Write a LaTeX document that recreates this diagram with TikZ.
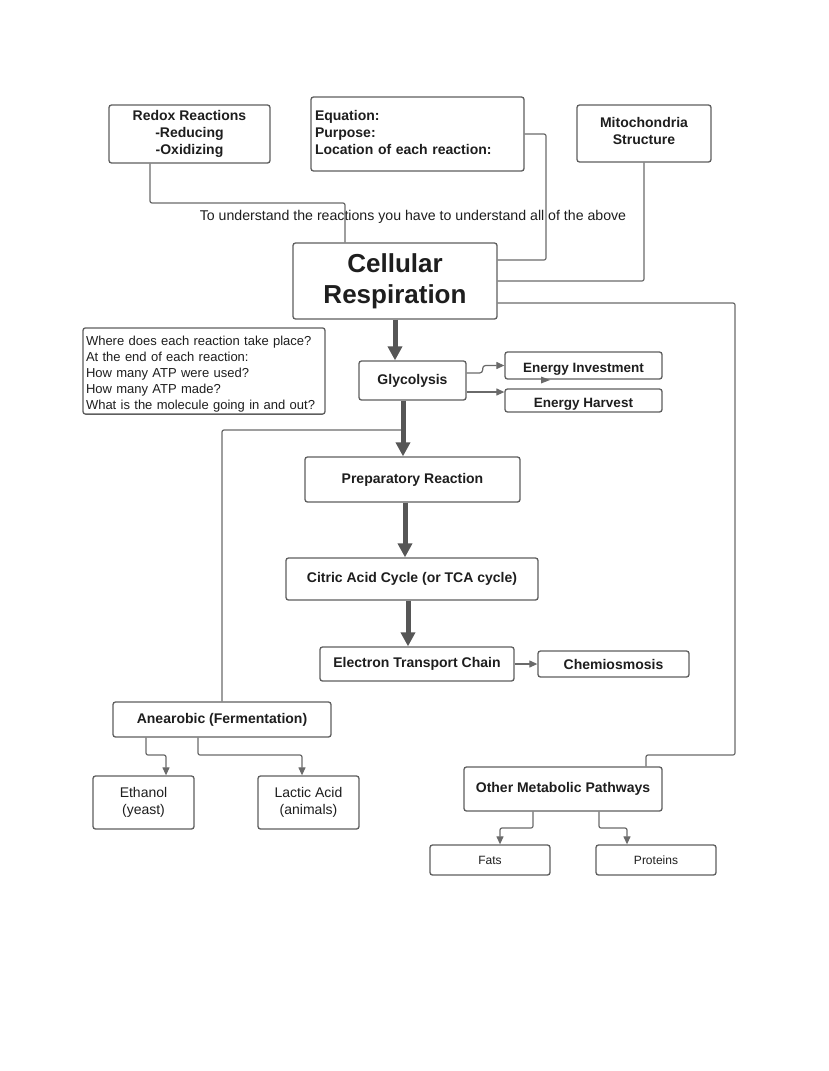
\documentclass[tikz,border=0pt]{standalone}
\usepackage{fontspec}
\setmainfont{Liberation Sans}
\usetikzlibrary{arrows.meta}
\definecolor{boxc}{HTML}{5E5E5E}
\definecolor{linec}{HTML}{6A6A6A}
\definecolor{arrc}{HTML}{565656}
\definecolor{txt}{HTML}{1E1E1E}
\tikzset{
  box/.style={draw=boxc, line width=1.3pt, rounded corners=2.5pt, align=center, inner sep=2pt, text=txt,
    font=\bfseries\fontsize{14}{17}\selectfont},
  plainbox/.style={box, font=\fontsize{14}{17}\selectfont},
  conn/.style={draw=linec, line width=1.2pt, rounded corners=2pt},
  tarrow/.style={conn, -{Triangle[width=7pt,length=8pt]}},
  bigarrow/.style={draw=arrc, line width=5pt, -{Triangle[width=14pt,length=14pt]}},
}
\begin{document}
\begin{tikzpicture}[x=1pt,y=-1pt]
\useasboundingbox[fill=white] (0,0) rectangle (828,1071);

% nodes
\node[box, minimum width=161, minimum height=58] (redox) at (189.5,134) {Redox Reactions\\-Reducing\\-Oxidizing};
\node[box, minimum height=74, text width=205, inner xsep=4pt, align=left] (eq) at (417.5,134) {Equation:\\Purpose:\\Location of each reaction:\rule[-4pt]{0pt}{4pt}};
\node[box, minimum width=134, minimum height=57] (mito) at (644,133.5) {Mitochondria\\Structure\rule[-6pt]{0pt}{6pt}};
\node[text=txt, font=\fontsize{14.15}{17}\selectfont, inner sep=0pt] (note) at (413,217) {To understand the reactions you have to understand all of the above};
\node[box, minimum width=204, minimum height=76, font=\bfseries\fontsize{26}{31}\selectfont] (cr) at (395,281) {Cellular\\Respiration};
\node[plainbox, minimum height=84, text width=236, inner xsep=3pt, align=left, font=\fontsize{13}{16}\selectfont] (q) at (204,371)
  {\rule{0pt}{15.5pt}Where does each reaction take place?\\At the end of each reaction:\\How many ATP were used?\\How many ATP made?\\What is the molecule going in and out?};
\node[box, minimum width=107, minimum height=39] (gly) at (412.5,380.5) {Glycolysis};
\node[box, minimum width=157, minimum height=27, text height=15pt, text depth=2pt, font=\bfseries\fontsize{13.5}{16}\selectfont] (ei) at (583.5,365.5) {Energy Investment};
\node[box, minimum width=157, minimum height=23, text height=15pt, text depth=2pt, font=\bfseries\fontsize{13.5}{16}\selectfont] (eh) at (583.5,400.5) {Energy Harvest};
\node[box, minimum width=215, minimum height=45] (prep) at (412.5,479.5) {Preparatory Reaction};
\node[box, minimum width=252, minimum height=42] (cit) at (412,579) {Citric Acid Cycle (or TCA cycle)};
\node[box, minimum width=194, minimum height=34] (etc) at (417,664) {Electron Transport Chain};
\node[box, minimum width=151, minimum height=26] (chem) at (613.5,664) {Chemiosmosis};
\node[box, minimum width=218, minimum height=35] (ana) at (222,719.5) {Anearobic (Fermentation)};
\node[plainbox, minimum width=101, minimum height=53] (eth) at (143.5,802.5) {Ethanol\\(yeast)};
\node[plainbox, minimum width=101, minimum height=53] (lac) at (308.5,802.5) {Lactic Acid\\(animals)};
\node[box, minimum width=198, minimum height=44] (omp) at (563,789) {Other Metabolic Pathways};
\node[plainbox, minimum width=120, minimum height=30, font=\fontsize{12}{14}\selectfont] (fats) at (490,860) {Fats};
\node[plainbox, minimum width=120, minimum height=30, font=\fontsize{12}{14}\selectfont] (prot) at (656,860) {Proteins};

% top connectors
\coordinate (k1) at (150,203);
\coordinate (k2) at (345,203);
\draw[conn] (redox.south -| k1) -- (k1) -- (k2) -- (cr.north -| k2);
\coordinate (k3) at (546,260);
\draw[conn] (eq.east) -| (k3) -- (cr.east |- k3);
\draw[conn] (mito.south) |- (cr.east);
\coordinate (k5) at (735,303);
\coordinate (k6) at (735,755);
\coordinate (k7) at (646,755);
\draw[conn] (cr.east |- k5) -- (k5) -- (k6) -- (k7) -- (omp.north -| k7);

% main chain
\draw[bigarrow] (cr.south) -- (cr.south |- gly.north);
\draw[tarrow, rounded corners=3pt] ([yshift=7.5pt]gly.east) -- ++(16,0) |- (ei.west);
\coordinate (h1) at ([yshift=-11.5pt]gly.east);
\draw[tarrow] (h1) -- (eh.west |- h1);
\fill[linec] (541,376.5) -- (550,380) -- (541,383.5) -- cycle;
\coordinate (g1) at ([xshift=-9.5pt]gly.south);
\coordinate (k8) at (222,430);
\draw[conn] (g1 |- k8) -- (k8) -- (ana.north);
\draw[bigarrow] (g1) -- (g1 |- prep.north);
\coordinate (p1) at ([xshift=-7.5pt]prep.south);
\draw[bigarrow] (p1) -- (p1 |- cit.north);
\coordinate (c1) at ([xshift=-4pt]cit.south);
\draw[bigarrow] (c1) -- (c1 |- etc.north);
\draw[tarrow] (etc.east) -- (chem.west);

% fermentation
\coordinate (a1) at (146,755);
\coordinate (a2) at (166,755);
\draw[tarrow] (ana.south -| a1) -- (a1) -- (a2) -- (eth.north -| a2);
\coordinate (a3) at (198,755);
\coordinate (a4) at (302,755);
\draw[tarrow] (ana.south -| a3) -- (a3) -- (a4) -- (lac.north -| a4);

% other pathways
\coordinate (o1) at (533,828);
\coordinate (o2) at (500,828);
\draw[tarrow] (omp.south -| o1) -- (o1) -- (o2) -- (fats.north -| o2);
\coordinate (o3) at (599,828);
\coordinate (o4) at (627,828);
\draw[tarrow] (omp.south -| o3) -- (o3) -- (o4) -- (prot.north -| o4);
\end{tikzpicture}
\end{document}
